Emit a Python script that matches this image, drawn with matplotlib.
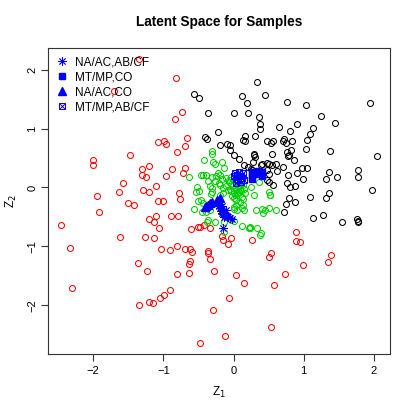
import matplotlib
matplotlib.use("Agg")
import matplotlib.pyplot as plt
from matplotlib.legend_handler import HandlerTuple

plt.rcParams['font.family'] = ['Liberation Sans', 'DejaVu Sans']

# latent coordinates
black_x = [0.34, 0.45, 0.12, 0.19, 0.76, 1.03, 1.94, -0.37, 0.01, 0.21, 0.36, 0.38, 0.37, 0.65,
           0.81, 0.90, 1.24, 1.45, 1.13, 1.09, 1.05, -0.22, -0.41, -0.38, 0.17, 0.14, 0.16, 0.31,
           0.47, 0.53, 0.56, 0.72, 0.70, 0.75, 0.83, -0.20, -0.10, -0.05, -0.05, 1.03, 1.38, 2.05,
           0.29, 0.29, 0.31, 0.55, 0.76, 0.79, 0.77, 0.82, 0.00, 0.08, 0.15, 0.28, 0.40, 0.39,
           0.86, 0.21, 0.25, 0.26, 0.48, 0.51, 0.55, 0.61, 0.70, 0.47, 0.50, 0.62, 0.98, 1.04,
           0.90, 1.36, 1.78, 1.77, 0.78, 0.99, 1.32, 1.48, 0.48, 0.50, 0.56, 0.76, 0.80, 0.88,
           1.98, 1.36, 1.32, 0.79, 1.09, 0.75, 0.87, 0.72, 1.13, 1.27, 1.54, 1.76, 1.78, 1.77,
           -0.57, -0.49]
black_y = [1.79, 1.57, 1.55, 1.43, 1.45, 1.40, 1.43, 1.26, 1.26, 1.26, 1.20, 1.07, 0.99, 1.02,
           0.95, 1.08, 1.21, 1.09, 1.01, 0.90, 0.81, 0.94, 0.85, 0.82, 0.87, 0.81, 0.79, 0.88,
           0.78, 0.76, 0.79, 0.82, 0.78, 0.76, 0.78, 0.72, 0.73, 0.72, 0.64, 0.66, 0.62, 0.54,
           0.57, 0.55, 0.52, 0.57, 0.61, 0.55, 0.54, 0.64, 0.55, 0.48, 0.38, 0.44, 0.40, 0.38,
           0.46, 0.35, 0.32, 0.29, 0.42, 0.39, 0.38, 0.39, 0.34, 0.30, 0.23, 0.28, 0.33, 0.33,
           0.24, 0.26, 0.30, 0.18, 0.21, 0.14, 0.15, 0.17, 0.13, 0.10, 0.05, 0.08, 0.00, 0.03,
           -0.04, -0.10, -0.17, -0.17, -0.16, -0.28, -0.24, -0.41, -0.52, -0.47, -0.59, -0.54, -0.59, -0.56,
           1.58, 1.51]

red_x = [-1.35, -0.82, -1.70, -0.73, -0.83, -1.07, -0.99, -0.96, -0.66, -0.69, -0.80, -1.47, -2.00,
         -2.01, -1.20, -1.31, -1.30, -1.25, -0.88, -0.69, -0.72, -0.96, -1.58, -1.11, -1.29, -1.20,
         -1.63, -0.78, -1.95, -0.76, -1.50, -1.42, -1.07, -1.00, -1.92, -2.46, -1.21, -1.14, -1.11,
         -0.89, -0.79, -1.06, -1.62, -1.26, -1.13, -0.60, -0.51, -0.48, -0.42, -0.33, -2.33, -1.03,
         -0.90, -0.80, -0.69, -0.62, -0.59, -0.37, -0.37, -0.33, -1.36, -1.24, -0.62, -0.63, -0.81,
         -0.64, -0.28, -2.30, -0.91, -0.99, -1.05, -1.21, -1.15, -1.35, -0.07, -0.29, -0.12, -0.48,
         -0.17, -0.15, -0.08, -0.04, 0.27, 0.89, 0.89, 0.94, 0.53, 0.51, 1.39, 1.35, 0.99, 0.03,
         0.73, 0.15, 0.57, 0.54]
red_y = [2.18, 1.86, 1.64, 1.28, 1.16, 0.77, 0.79, 0.74, 0.84, 0.70, 0.60, 0.55, 0.46,
         0.38, 0.37, 0.31, 0.22, 0.17, 0.31, 0.33, 0.25, 0.19, 0.08, 0.03, -0.04, -0.08,
         -0.08, -0.09, -0.14, -0.20, -0.27, -0.30, -0.23, -0.23, -0.41, -0.64, -0.54, -0.58, -0.49,
         -0.48, -0.48, -0.69, -0.84, -0.84, -0.85, -0.70, -0.67, -0.67, -0.64, -0.69, -1.02, -1.04,
         -1.06, -0.99, -1.04, -1.04, -1.10, -1.08, -1.11, -1.22, -1.28, -1.42, -1.25, -1.30, -1.47,
         -1.45, -1.42, -1.70, -1.73, -1.83, -1.88, -1.94, -1.95, -2.00, -1.88, -2.08, -2.52, -2.64,
         -0.82, -0.89, -0.96, -0.85, -0.89, -0.75, -0.91, -0.93, -1.11, -1.17, -1.15, -1.27, -1.32, -1.49,
         -1.47, -1.62, -1.65, -2.37]

green_x = [-0.30, -0.30, -0.42, -0.29, -0.27, -0.17, -0.13, -0.22, -0.19, -0.46, -0.44, -0.39,
           -0.63, -0.31, -0.27, -0.16, -0.11, -0.07, -0.37, -0.52, -0.49, -0.54, -0.33, -0.31,
           -0.30, -0.32, -0.21, -0.19, -0.15, -0.11, -0.51, -0.47, -0.44, -0.56, -0.45, -0.39,
           -0.34, -0.26, 0.00, 0.01, 0.05, 0.12, -0.04, 0.00, 0.12, 0.22, -0.13, 0.01, 0.04,
           0.12, 0.09, 0.13, 0.13, 0.29, 0.52, 0.15, 0.32, 0.41, 0.45, 0.42, 0.51, 0.61, 0.23,
           0.24, 0.33, 0.39, 0.38, 0.25, 0.36, 0.51, 0.52, 0.03, -0.37, -0.38, -0.14, -0.25,
           -0.03, -0.19, -0.15, -0.06, -0.04, -0.02, -0.05, -0.03, 0.00, 0.02, -0.02, 0.04,
           0.06, 0.07, 0.05, -0.08, 0.08, 0.09, 0.06, 0.09, 0.08, 0.11, 0.15, 0.17, 0.13]
green_y = [0.62, 0.56, 0.46, 0.43, 0.39, 0.44, 0.33, 0.25, 0.22, 0.22, 0.21, 0.21,
           0.18, 0.17, 0.11, 0.14, 0.16, 0.10, 0.11, 0.00, -0.06, -0.07, 0.02, -0.01,
           -0.07, -0.11, 0.07, 0.04, -0.01, 0.03, -0.23, -0.22, -0.27, -0.37, -0.42, -0.42,
           -0.38, -0.58, -0.33, -0.37, -0.38, -0.35, -0.55, -0.57, -0.65, -0.68, -0.75, -0.18, -0.21,
           -0.16, -0.24, -0.30, -0.20, -0.13, -0.13, -0.39, -0.39, -0.37, -0.38, -0.43, -0.35, -0.39, -0.67,
           -0.69, -0.69, -0.77, -0.81, 0.01, 0.10, -0.08, -0.12, -0.30, -0.55, -0.59, -0.59, 0.20,
           0.17, -0.12, -0.10, 0.12, 0.06, 0.02, -0.02, -0.06, -0.09, -0.12, -0.14, -0.04,
           0.00, 0.05, -0.10, -0.05, -0.08, 0.02, -0.10, -0.03, 0.03, -0.06, -0.02, -0.10, 0.05]

star_x = [-0.19, -0.17, -0.20, -0.16, -0.18, -0.14, -0.15, -0.12, -0.10, -0.08, -0.05, -0.02,
          -0.13, -0.17, -0.15, -0.21, -0.11]
star_y = [-0.28, -0.31, -0.35, -0.36, -0.40, -0.42, -0.45, -0.47, -0.49, -0.50, -0.52, -0.53,
          -0.50, -0.44, -0.68, -0.32, -0.38]

sq_x = [0.26, 0.27, 0.26, 0.30, 0.35, 0.40, 0.41, 0.37]
sq_y = [0.26, 0.20, 0.14, 0.23, 0.28, 0.26, 0.20, 0.24]

tri_x = [-0.39, -0.33, -0.30, -0.24, -0.22, -0.41, -0.36, -0.19]
tri_y = [-0.31, -0.27, -0.25, -0.21, -0.24, -0.33, -0.29, -0.18]

xsq_x = [0.02, 0.05, 0.08, 0.10, 0.03, 0.07, 0.12, 0.14, 0.04, 0.10, 0.15, 0.01]
xsq_y = [0.25, 0.22, 0.27, 0.20, 0.15, 0.12, 0.16, 0.24, 0.08, 0.09, 0.12, 0.19]

legend_labels = ["NA/AC,AB/CF", "MT/MP,CO", "NA/AC,CO", "MT/MP,AB/CF"]

fig = plt.figure(figsize=(4.15, 4.15), dpi=100)
ax = fig.add_axes([0.1164, 0.146, 0.8234, 0.7376])

circ = dict(linestyle='none', marker='o', markersize=4.3, markerfacecolor='none', markeredgewidth=0.75)
ax.plot(black_x, black_y, markeredgecolor='black', **circ)
ax.plot(red_x, red_y, markeredgecolor='#FF0000', **circ)
ax.plot(green_x, green_y, markeredgecolor='#00CD00', **circ)

blue = '#0000FF'
h_star, = ax.plot(star_x, star_y, linestyle='none', marker=(8, 2, 0), markersize=6,
                  color=blue, markeredgewidth=0.6)
h_sq, = ax.plot(sq_x, sq_y, linestyle='none', marker='s', markersize=5, color=blue)
h_tri, = ax.plot(tri_x, tri_y, linestyle='none', marker='^', markersize=6, color=blue)
h_xs1, = ax.plot(xsq_x, xsq_y, linestyle='none', marker='s', markersize=5, markerfacecolor='none',
                 markeredgecolor=blue, markeredgewidth=0.7)
h_xs2, = ax.plot(xsq_x, xsq_y, linestyle='none', marker='x', markersize=5,
                 markeredgecolor=blue, markeredgewidth=0.7)

ax.set_xlim(-2.64, 2.23)
ax.set_ylim(-2.83, 2.36)
ax.set_xticks([-2, -1, 0, 1, 2])
ax.set_yticks([-2, -1, 0, 1, 2])
ax.set_xticklabels(['\u22122', '\u22121', '0', '1', '2'])
ax.set_yticklabels(['\u22122', '\u22121', '0', '1', '2'], rotation=90, va='center')
ax.tick_params(length=5, width=0.8, labelsize=8, pad=3, color='#333333')
for s in ax.spines.values():
    s.set_linewidth(0.8)
    s.set_color('#333333')

ax.set_title("Latent Space for Samples", fontsize=9.8, fontweight='bold', pad=16)
ax.set_xlabel("Z$_1$", fontsize=8.5, labelpad=7)
ax.set_ylabel("Z$_2$", fontsize=8.5, labelpad=6)

ax.legend([h_star, h_sq, h_tri, (h_xs1, h_xs2)], legend_labels, loc='upper left',
          frameon=False, fontsize=8.5, handlelength=1.0, handletextpad=0.6,
          labelspacing=0.25, borderaxespad=0.3,
          handler_map={tuple: HandlerTuple(ndivide=1)})

fig.savefig("out.png", dpi=100)
